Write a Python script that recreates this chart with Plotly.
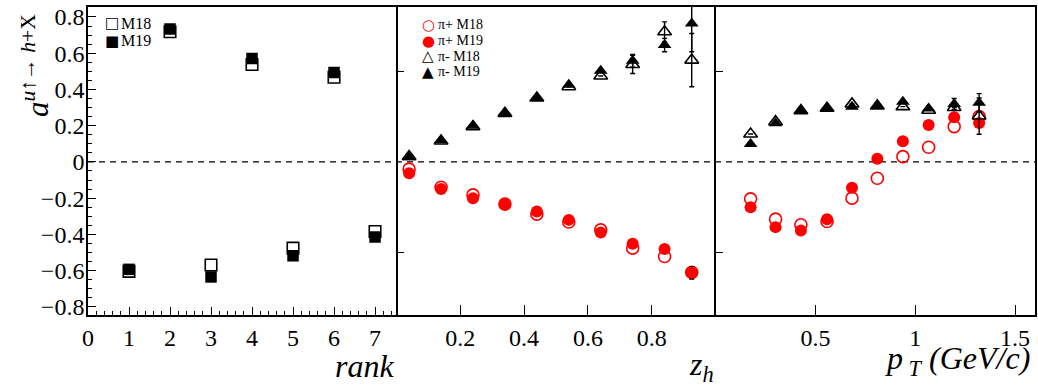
import plotly.graph_objects as go
from plotly.subplots import make_subplots

# ---- rank panel ----
rank = [1, 2, 3, 4, 5, 6, 7]
rank_m18 = [-0.604, 0.718, -0.569, 0.538, -0.476, 0.467, -0.384]
rank_m19 = [-0.593, 0.733, -0.635, 0.571, -0.518, 0.494, -0.415]

# ---- z_h panel ----
zh = [0.04, 0.14, 0.24, 0.34, 0.44, 0.54, 0.64, 0.74, 0.84, 0.925]
zh_pip_m18 = [-0.040, -0.140, -0.182, -0.233, -0.288, -0.332, -0.375, -0.476, -0.522, -0.610]
zh_pip_m19 = [-0.062, -0.150, -0.200, -0.233, -0.274, -0.320, -0.390, -0.452, -0.481, -0.612]
zh_pip_m19_err = [None, None, None, None, None, None, None, None, None, 0.034]
zh_pim_m18 = [0.030, 0.115, 0.195, 0.268, 0.353, 0.415, 0.474, 0.538, 0.718, 0.562]
zh_pim_m19 = [0.026, 0.120, 0.200, 0.270, 0.353, 0.426, 0.503, 0.558, 0.645, 0.764]
zh_pim_m18_err = [None, None, None, None, None, None, None, 0.050, 0.055, 0.147]
zh_pim_m19_err = [None, None, None, None, None, None, None, 0.035, 0.037, 0.156]

# ---- p_T panel ----
pt = [0.175, 0.30, 0.427, 0.558, 0.683, 0.81, 0.938, 1.067, 1.195, 1.32]
pt_pip_m18 = [-0.204, -0.316, -0.347, -0.329, -0.200, -0.090, 0.029, 0.081, 0.195, 0.250]
pt_pip_m19 = [-0.250, -0.360, -0.378, -0.316, -0.143, 0.018, 0.114, 0.204, 0.247, 0.215]
pt_pim_m18 = [0.154, 0.222, 0.283, 0.296, 0.320, 0.309, 0.305, 0.285, 0.300, 0.253]
pt_pim_m19 = [0.099, 0.213, 0.283, 0.296, 0.305, 0.309, 0.332, 0.295, 0.320, 0.327]
pt_pim_m18_err = [None, None, None, None, None, None, None, None, None, 0.100]
pt_pim_m19_err = [None, None, None, None, None, None, None, None, 0.030, 0.050]

# ---- axis labels ----
y_ticks = [-0.8, -0.6, -0.4, -0.2, 0, 0.2, 0.4, 0.6, 0.8]
y_ticktext = ["\u22120.8", "\u22120.6", "\u22120.4", "\u22120.2", "0", "0.2", "0.4", "0.6", "0.8"]
rank_ticks = [0, 1, 2, 3, 4, 5, 6, 7]
zh_ticks = [0.2, 0.4, 0.6, 0.8]
pt_ticks = [0.5, 1, 1.5]
pt_ticktext = ["0.5", "1", "1.5"]

FONT = "Liberation Serif, Tinos, Times New Roman, Times, Nimbus Roman, DejaVu Serif, serif"
SYMFONT = "DejaVu Sans"
RED = "#ff0000"
BLACK = "#000000"
W, H = 1038, 386
ML, MR, MT, MB = 88, 1, 7, 71
PW = W - ML - MR
PH = H - MT - MB

fig = make_subplots(rows=1, cols=3, horizontal_spacing=0,
                    column_widths=[309, 320, 320])


def err(arr, color):
    return dict(type="data", array=arr, color=color, thickness=1.4, width=2.5)


# rank panel
fig.add_trace(go.Scatter(x=rank, y=rank_m18, mode="markers", name="M18",
                         marker=dict(symbol="square-open", size=11.5, color=BLACK,
                                     line=dict(width=1.6, color=BLACK))), 1, 1)
fig.add_trace(go.Scatter(x=rank, y=rank_m19, mode="markers", name="M19",
                         marker=dict(symbol="square", size=11.5, color=BLACK)), 1, 1)

# z_h panel
fig.add_trace(go.Scatter(x=zh, y=zh_pip_m18, mode="markers", name="\u03c0+ M18",
                         marker=dict(symbol="circle-open", size=12, color=RED,
                                     line=dict(width=1.6, color=RED))), 1, 2)
fig.add_trace(go.Scatter(x=zh, y=zh_pip_m19, mode="markers", name="\u03c0+ M19",
                         error_y=err(zh_pip_m19_err, BLACK),
                         marker=dict(symbol="circle", size=12, color=RED)), 1, 2)
fig.add_trace(go.Scatter(x=zh, y=zh_pim_m18, mode="markers", name="\u03c0- M18",
                         error_y=err(zh_pim_m18_err, BLACK),
                         marker=dict(symbol="triangle-up-open", size=12, color=BLACK,
                                     line=dict(width=1.6, color=BLACK))), 1, 2)
fig.add_trace(go.Scatter(x=zh, y=zh_pim_m19, mode="markers", name="\u03c0- M19",
                         error_y=err(zh_pim_m19_err, BLACK),
                         marker=dict(symbol="triangle-up", size=12, color=BLACK)), 1, 2)

# p_T panel
fig.add_trace(go.Scatter(x=pt, y=pt_pip_m18, mode="markers",
                         marker=dict(symbol="circle-open", size=12, color=RED,
                                     line=dict(width=1.6, color=RED))), 1, 3)
fig.add_trace(go.Scatter(x=pt, y=pt_pip_m19, mode="markers",
                         marker=dict(symbol="circle", size=12, color=RED)), 1, 3)
fig.add_trace(go.Scatter(x=pt, y=pt_pim_m18, mode="markers",
                         error_y=err(pt_pim_m18_err, BLACK),
                         marker=dict(symbol="triangle-up-open", size=12, color=BLACK,
                                     line=dict(width=1.6, color=BLACK))), 1, 3)
fig.add_trace(go.Scatter(x=pt, y=pt_pim_m19, mode="markers",
                         error_y=err(pt_pim_m19_err, BLACK),
                         marker=dict(symbol="triangle-up", size=12, color=BLACK)), 1, 3)

tickfont = dict(family=FONT, size=24, color=BLACK)
common = dict(linecolor=BLACK, linewidth=1.6, showgrid=False, zeroline=False,
              ticks="inside", tickcolor=BLACK, tickwidth=1.3, tickfont=tickfont)

fig.update_xaxes(row=1, col=1, range=[0, 7.52], tickmode="array", tickvals=rank_ticks,
                 ticklen=8, showline=True, mirror=True,
                 minor=dict(ticks="inside", ticklen=4, tickmode="linear",
                            tick0=0, dtick=0.2, tickcolor=BLACK, tickwidth=1,
                            showgrid=False), **common)
fig.update_xaxes(row=1, col=2, range=[0, 1], tickmode="array", tickvals=zh_ticks,
                 ticktext=[f"{v:.1f}" for v in zh_ticks], ticklen=10,
                 showline=True, mirror=True, **common)
fig.update_xaxes(row=1, col=3, range=[0, 1.6], tickmode="array", tickvals=pt_ticks,
                 ticktext=pt_ticktext, ticklen=10, showline=True, mirror=True, **common)

YR = [-0.845, 0.855]
fig.update_yaxes(row=1, col=1, range=YR, tickmode="array", tickvals=y_ticks,
                 ticktext=y_ticktext, ticklen=8, showline=True, mirror=True,
                 ticklabelstandoff=-3,
                 minor=dict(ticks="inside", ticklen=4, tickmode="linear", tick0=0,
                            dtick=0.05, tickcolor=BLACK, tickwidth=1, showgrid=False),
                 **common)
# panel separators come from the neighbouring panels' frame lines
fig.update_yaxes(row=1, col=2, range=YR, tickmode="array", tickvals=[-0.5, 0.5],
                 showticklabels=False, ticklen=8, showline=False, **common)
fig.update_yaxes(row=1, col=3, range=YR, tickmode="array", tickvals=[-0.5, 0.5],
                 showticklabels=False, ticklen=8, showline=True, mirror=True, **common)

# dashed zero line across all panels
fig.add_shape(type="line", xref="paper", x0=0, x1=1, yref="y", y0=0, y1=0,
              line=dict(color=BLACK, width=1.3, dash="6px,5px"), layer="below")


def px_x(p):
    return (p - ML) / PW


def px_y(p):
    return (H - MB - p) / PH


def note(text, x, y, size, color=BLACK, family=FONT, xanchor="left", **kw):
    fig.add_annotation(text=text, xref="paper", yref="paper", x=px_x(x), y=px_y(y),
                       xanchor=xanchor, yanchor="middle", showarrow=False,
                       font=dict(family=family, size=size, color=color), **kw)


# axis titles
note("<i>rank</i>", 397, 366, 32, xanchor="right")
note("<i>z<sub>h</sub></i>", 717, 366, 32, xanchor="right")
note("<i>p<sub> T</sub> (GeV/c)</i>", 1034, 360, 32, xanchor="right")
note("<i>a</i><sup><i>u</i>\u2191\u2192 <i>h</i>+X</sup>", 35, 66, 31,
     xanchor="center", textangle=-90)

# legend of the rank panel
leg1 = [("\u25a1", BLACK, "M18"), ("\u25a0", BLACK, "M19")]
for i, (sym, col, lab) in enumerate(leg1):
    yy = 23 + 18 * i
    note(sym, 112, yy, 15, color=col, family=SYMFONT, xanchor="center")
    note(lab, 119, yy, 16)

# legend of the z_h panel
leg2 = [("\u25cb", RED, "\u03c0+ M18"), ("\u25cf", RED, "\u03c0+ M19"),
        ("\u25b3", BLACK, "\u03c0- M18"), ("\u25b2", BLACK, "\u03c0- M19")]
for i, (sym, col, lab) in enumerate(leg2):
    yy = 25 + 15.6 * i
    note(sym, 429, yy, 15, color=col, family=SYMFONT, xanchor="center")
    note(lab, 437, yy, 14)

fig.update_layout(
    width=W, height=H,
    margin=dict(l=ML, r=MR, t=MT, b=MB),
    paper_bgcolor="white", plot_bgcolor="white",
    font=dict(family=FONT, color=BLACK),
    showlegend=False,
)

fig.write_html("out.html")
